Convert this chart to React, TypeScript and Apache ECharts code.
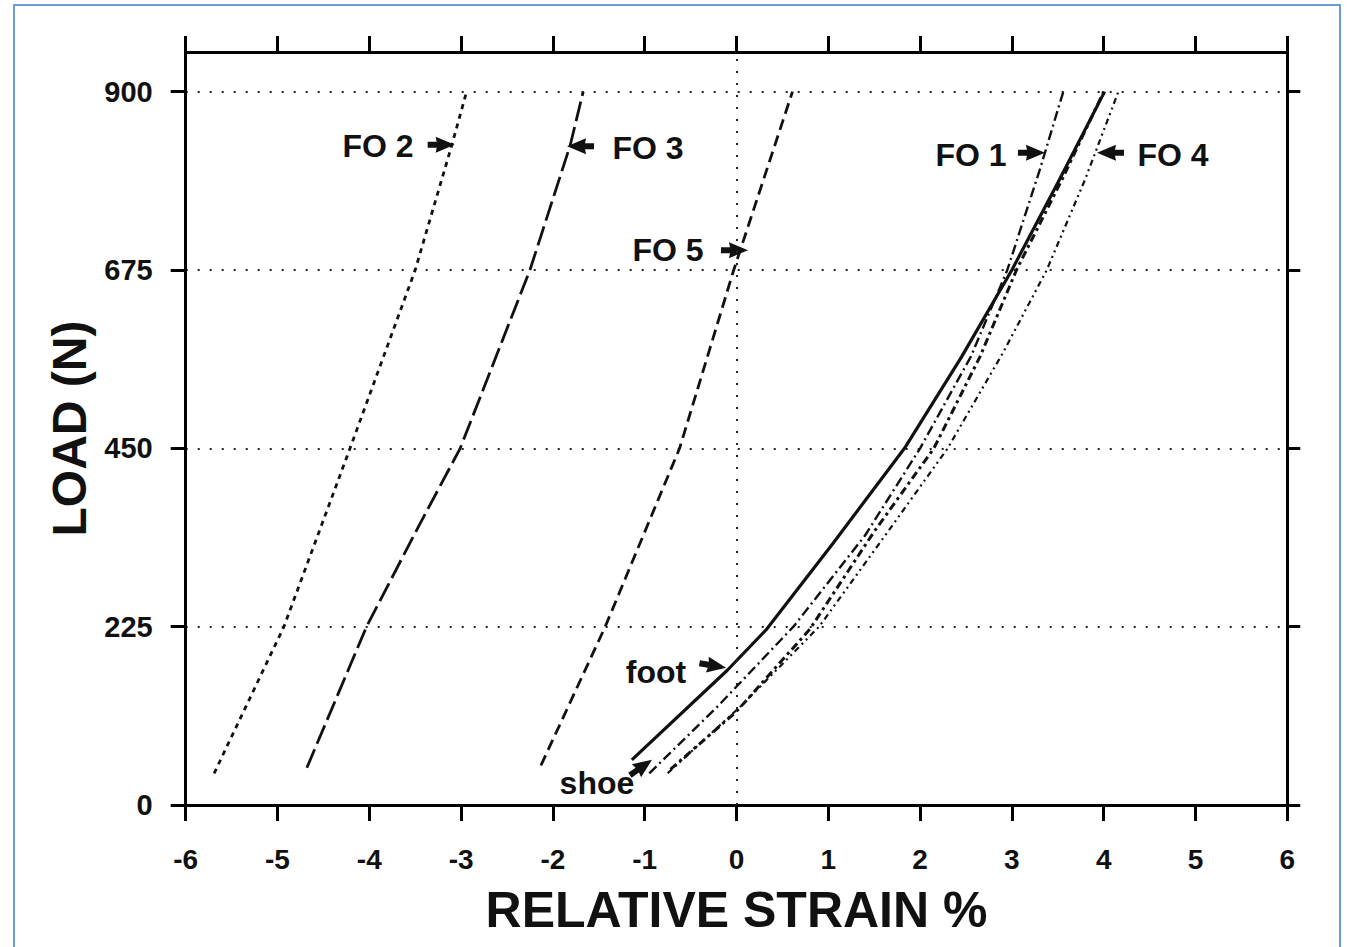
import React, { useEffect, useRef } from "react";
import * as echarts from "echarts";

// ---- data (strain %, load N) ----
const xTickValues = [-6, -5, -4, -3, -2, -1, 0, 1, 2, 3, 4, 5, 6];
const yTickValues = [0, 225, 450, 675, 900];

const fo2 = [[-5.69, 40], [-4.93, 225], [-4.21, 450], [-3.5, 675], [-3.1, 833], [-2.94, 900]];
const fo3 = [[-4.68, 47], [-4.03, 225], [-3.47, 350], [-3.01, 450], [-2.25, 675], [-1.81, 833], [-1.67, 900]];
const fo5 = [[-2.13, 50], [-1.43, 225], [-0.62, 450], [-0.03, 675], [0.61, 900]];
const foot = [[-1.14, 57], [-0.1, 170], [0.33, 222], [1.05, 330], [1.83, 450], [2.45, 565], [3.0, 675], [3.5, 785], [4.01, 900]];
const shoe = [[-0.72, 45], [0.0, 118], [0.8, 222], [1.5, 345], [2.15, 450], [2.65, 565], [3.05, 675], [3.55, 790], [4.0, 900]];
const fo1 = [[-0.95, 40], [-0.2, 125], [0.62, 225], [1.4, 340], [2.0, 450], [2.55, 565], [2.95, 675], [3.3, 800], [3.56, 900]];
const fo4 = [[-0.75, 40], [0.05, 125], [0.9, 225], [1.65, 345], [2.3, 450], [2.9, 570], [3.38, 675], [3.8, 790], [4.16, 900]];

// annotation labels: text anchor and arrow tip in data units, arrow direction (deg, screen)
const labelTexts = ["FO 2", "FO 3", "FO 5", "FO 1", "FO 4", "foot", "shoe"];
const labelPos = [[-3.905, 831], [-0.964, 829], [-0.746, 700], [2.554, 820], [4.755, 820], [-0.877, 168], [-1.52, 28]];
const arrowTips = [[-3.07, 833], [-1.846, 831], [0.125, 700], [3.36, 823], [3.927, 823], [-0.114, 173], [-0.92, 57]];
const arrowDirs = [0, 180, 0, 0, 180, 10, -35];

const FONT = "'Liberation Sans', Arial, Helvetica, sans-serif";

export default function App() {
  const ref = useRef<HTMLDivElement>(null);
  useEffect(() => {
    document.body.style.margin = "0";
    const chart = echarts.init(ref.current!, null, { renderer: "svg" });
    const ink = "#111";
    const mk = (name: string, data: number[][], type: any, width: number, extra: any = {}) => ({
      type: "line",
      name,
      data,
      symbol: "none",
      silent: true,
      xAxisIndex: 0,
      yAxisIndex: 0,
      lineStyle: { color: ink, width, type, cap: "butt" },
      ...extra,
    });
    const axisLine = { show: true, onZero: false, lineStyle: { color: "#000", width: 3 } };
    chart.setOption({
      animation: false,
      backgroundColor: "#fff",
      grid: { left: 185.7, right: 60.7, top: 52, bottom: 142, containLabel: false },
      xAxis: [
        {
          type: "value", min: -6, max: 6, interval: 1, position: "bottom",
          axisLine, axisTick: { show: true, length: 16, lineStyle: { color: "#000", width: 3 } },
          axisLabel: { color: ink, fontSize: 28, fontWeight: "bold", fontFamily: FONT, margin: 40 },
          splitLine: { show: false },
          name: "RELATIVE STRAIN %", nameLocation: "middle", nameGap: 80,
          nameTextStyle: { color: ink, fontSize: 50, fontWeight: "bold", fontFamily: FONT },
        },
        {
          type: "value", min: -6, max: 6, interval: 1, position: "top",
          axisLine, axisTick: { show: true, length: 16, lineStyle: { color: "#000", width: 3 } },
          axisLabel: { show: false }, splitLine: { show: false },
        },
      ],
      yAxis: [
        {
          type: "value", min: 0, max: 950, interval: 225, position: "left",
          axisLine,
          axisTick: { show: true, length: 15, customValues: yTickValues, lineStyle: { color: "#000", width: 3 } },
          axisLabel: {
            color: ink, fontSize: 29, fontWeight: "bold", fontFamily: FONT, margin: 33,
            customValues: yTickValues,
            formatter: (v: number) => (yTickValues.includes(v) ? String(v) : ""),
          },
          splitLine: { show: true, lineStyle: { color: "#222", width: 2, type: [2, 10] } },
          name: "LOAD (N)", nameLocation: "middle", nameGap: 86, nameRotate: 90,
          nameTextStyle: { color: ink, fontSize: 48, fontWeight: "bold", fontFamily: FONT },
        },
        {
          type: "value", min: 0, max: 950, interval: 225, position: "right",
          axisLine,
          axisTick: { show: true, length: 13, customValues: yTickValues, lineStyle: { color: "#000", width: 3 } },
          axisLabel: { show: false }, splitLine: { show: false },
        },
      ],
      series: [
        mk("FO 2", fo2, [5, 5], 2.8),
        mk("FO 3", fo3, [20, 6], 2.8),
        mk("FO 5", fo5, [11, 6], 2.8, {
          markLine: {
            silent: true, symbol: "none", label: { show: false },
            lineStyle: { color: "#222", width: 2, type: [2, 10] },
            data: [{ xAxis: 0 }],
          },
        }),
        mk("foot", foot, "solid", 3.2),
        mk("shoe", shoe, [8, 4, 3, 4], 3),
        mk("FO 1", fo1, [10, 4, 2, 4], 2.4),
        mk("FO 4", fo4, [6, 4, 2, 4, 2, 4], 2.2),
      ],
    });

    const toPx = (p: number[]) => chart.convertToPixel({ seriesIndex: 0 }, p) as number[];
    const graphics: any[] = [
      {
        type: "rect", shape: { x: 14, y: 5, width: 1326, height: 1000 },
        style: { fill: "none", stroke: "#6a9ad8", lineWidth: 2 }, silent: true,
      },
    ];
    const arrowShape = [[0, 0], [-19, -8], [-18, -3], [-27, -3], [-27, 3], [-18, 3], [-19, 8]];
    labelTexts.forEach((t, i) => {
      const lp = toPx(labelPos[i]);
      graphics.push({
        type: "text", x: lp[0], y: lp[1], silent: true,
        style: { text: t, fill: ink, font: `bold 32px ${FONT}`, align: "center", verticalAlign: "middle" },
      });
      const tip = toPx(arrowTips[i]);
      const a = (arrowDirs[i] * Math.PI) / 180;
      const pts = arrowShape.map(([x, y]) => [tip[0] + x * Math.cos(a) - y * Math.sin(a), tip[1] + x * Math.sin(a) + y * Math.cos(a)]);
      graphics.push({ type: "polygon", silent: true, shape: { points: pts }, style: { fill: ink } });
    });
    chart.setOption({ graphic: graphics });
    return () => chart.dispose();
  }, []);
  return <div ref={ref} style={{ width: 1348, height: 947 }} />;
}
